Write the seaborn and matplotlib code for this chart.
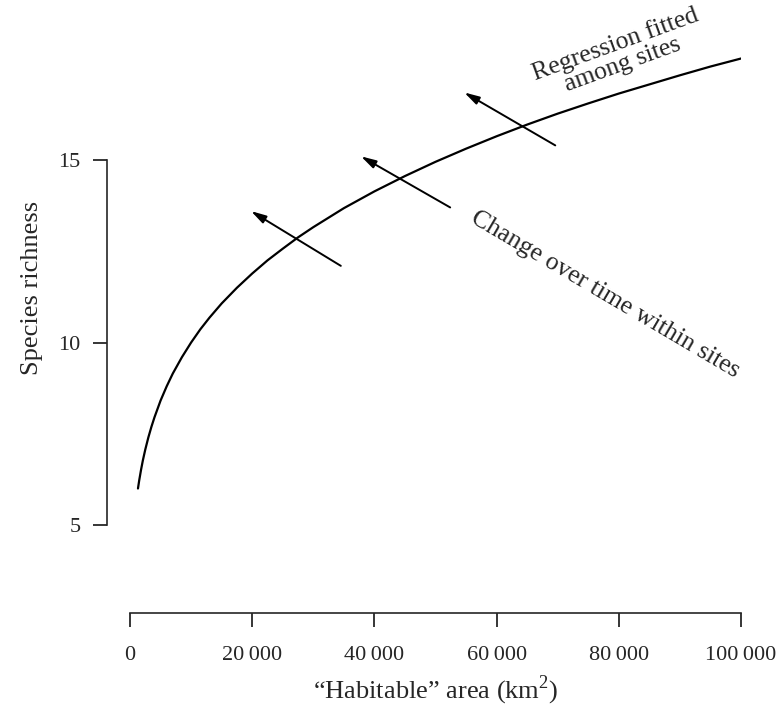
import numpy as np
import pandas as pd
import seaborn as sns
import matplotlib.pyplot as plt

# regression curve among sites
area = [1300, 1500, 1800, 2100, 2500, 3000, 3500, 4000, 5000, 6000, 7000, 8500,
        10000, 11500, 13000, 15000, 17500, 20000, 22500, 25000, 27500, 30000,
        35000, 40000, 45000, 50000, 55000, 60000, 65000, 70000, 75000, 80000,
        85000, 90000, 95000, 100000]
richness = [6.0, 6.22, 6.51, 6.77, 7.07, 7.4, 7.69, 7.95, 8.41, 8.8, 9.15, 9.6,
            10.0, 10.36, 10.68, 11.07, 11.5, 11.89, 12.25, 12.57, 12.88, 13.16,
            13.68, 14.14, 14.56, 14.95, 15.31, 15.65, 15.97, 16.27, 16.55, 16.82,
            17.07, 17.32, 17.56, 17.78]

# change over time within sites (tail -> head)
arrow_tail_x = [34500, 52400, 69600]
arrow_tail_y = [12.1, 13.7, 15.4]
arrow_head_x = [19800, 37800, 54700]
arrow_head_y = [13.6, 15.1, 16.85]

x_ticks = [0, 20000, 40000, 60000, 80000, 100000]
x_tick_labels = ["0", "20\u2009000", "40\u2009000", "60\u2009000", "80\u2009000", "100\u2009000"]
y_ticks = [5, 10, 15]

sns.set_style("ticks")
plt.rcParams['font.family'] = ['Liberation Serif', 'DejaVu Serif']
plt.rcParams['mathtext.fontset'] = 'custom'
plt.rcParams['mathtext.rm'] = 'Liberation Serif'
plt.rcParams['axes.linewidth'] = 1.2

fig = plt.figure(figsize=(7.8, 7.09), dpi=100)
ax = fig.add_axes([0.1667, 0.2595, 0.7833, 0.6693])

df = pd.DataFrame(dict(area=area, richness=richness))
sns.lineplot(data=df, x="area", y="richness", color="black", lw=1.6, ax=ax)

for tx, ty, hx, hy in zip(arrow_tail_x, arrow_tail_y, arrow_head_x, arrow_head_y):
    ax.annotate("", xy=(hx, hy), xytext=(tx, ty),
                arrowprops=dict(arrowstyle="-|>,head_length=0.9,head_width=0.25",
                                color="black", lw=1.4, shrinkA=0, shrinkB=0))

ax.set_xlim(0, 100000)
ax.set_ylim(5, 18)
ax.set_xticks(x_ticks)
ax.set_yticks(y_ticks)
sns.despine(ax=ax, offset={'left': 16.6, 'bottom': 63.4}, trim=True)
ax.set_xticklabels(x_tick_labels)
ax.set_yticklabels([str(v) for v in y_ticks])
ax.tick_params(axis='both', length=10, width=1.1, labelsize=16, color='black')
ax.tick_params(axis='x', pad=14)
ax.tick_params(axis='y', pad=9)

ax.set_xlabel("\u201cHabitable\u201d area (km$^{2}$)", fontsize=19, labelpad=6)
ax.set_ylabel("Species richness", fontsize=19, labelpad=11)

ax.text(80000, 17.9, "Regression fitted\namong sites", fontsize=18.5,
        rotation=20, ha="center", va="center", rotation_mode="anchor",
        linespacing=0.95)
ax.text(77700, 11.3, "Change over time within sites", fontsize=18.5,
        rotation=-30.5, ha="center", va="center", rotation_mode="anchor")

plt.savefig("out.png", dpi=100)
